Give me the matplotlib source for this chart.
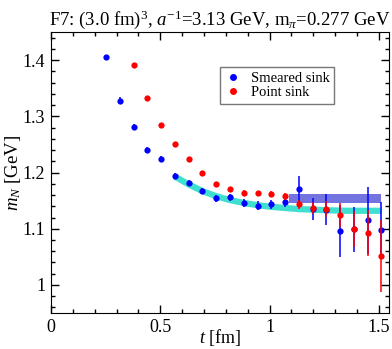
import matplotlib
matplotlib.use("Agg")
import matplotlib.pyplot as plt
from matplotlib.ticker import MultipleLocator
from matplotlib.lines import Line2D

plt.rcParams['font.family'] = ['Liberation Serif', 'DejaVu Serif']
plt.rcParams['mathtext.fontset'] = 'custom'
plt.rcParams['mathtext.rm'] = 'Liberation Serif'
plt.rcParams['mathtext.it'] = 'Liberation Serif:italic'

# smeared sink
t_sm = [0.252, 0.315, 0.378, 0.441, 0.504, 0.567, 0.630, 0.693, 0.756, 0.819, 0.882,
        0.945, 1.008, 1.071, 1.134, 1.197, 1.260, 1.323, 1.386, 1.449, 1.512]
m_sm = [1.405, 1.328, 1.281, 1.240, 1.225, 1.194, 1.181, 1.167, 1.154, 1.156, 1.146,
        1.141, 1.144, 1.147, 1.170, 1.135, 1.134, 1.096, 1.099, 1.115, 1.097]
e_sm = [0.005, 0.006, 0.005, 0.005, 0.005, 0.006, 0.005, 0.006, 0.006, 0.006, 0.007,
        0.008, 0.008, 0.009, 0.024, 0.019, 0.027, 0.047, 0.040, 0.060, 0.050]

# point sink
t_pt = [0.378, 0.441, 0.504, 0.567, 0.630, 0.693, 0.756, 0.819, 0.882, 0.945,
        1.008, 1.071, 1.134, 1.197, 1.260, 1.323, 1.386, 1.449, 1.512]
m_pt = [1.391, 1.332, 1.285, 1.250, 1.224, 1.199, 1.179, 1.171, 1.164, 1.163,
        1.162, 1.158, 1.144, 1.137, 1.135, 1.124, 1.099, 1.092, 1.052]
e_pt = [0.002, 0.002, 0.002, 0.003, 0.003, 0.003, 0.004, 0.004, 0.005, 0.005,
        0.006, 0.006, 0.008, 0.011, 0.014, 0.021, 0.032, 0.041, 0.064]

# fit curve
t_fit = [0.567, 0.630, 0.693, 0.756, 0.819, 0.882, 0.945, 1.008, 1.071, 1.134,
         1.197, 1.260, 1.350, 1.430, 1.512]
m_fit = [1.193, 1.179, 1.167, 1.158, 1.151, 1.146, 1.142, 1.139, 1.137, 1.135,
         1.134, 1.133, 1.132, 1.132, 1.132]

# plateau band
band_t = [1.088, 1.512]
band_lo = 1.145
band_hi = 1.161

fig = plt.figure(figsize=(3.92, 3.49), dpi=100)
ax = fig.add_axes([0.130, 0.103, 0.862, 0.805])

ax.fill_between(band_t, band_lo, band_hi, color='#7474e0', lw=0, zorder=1)
ax.plot(t_fit, m_fit, color='#40e0d0', lw=4.5, solid_capstyle='butt', zorder=2)

ax.errorbar(t_sm, m_sm, yerr=e_sm, fmt='o', color='blue', ms=4.5, mew=0,
            elinewidth=1.1, capsize=3.5, capthick=1.1, zorder=3)
ax.errorbar(t_pt, m_pt, yerr=e_pt, fmt='o', color='red', ms=4.5, mew=0,
            elinewidth=1.1, capsize=3.5, capthick=1.1, zorder=4)

ax.set_xlim(0, 1.546)
ax.set_ylim(0.95, 1.45)
ax.xaxis.set_minor_locator(MultipleLocator(0.1))
ax.yaxis.set_minor_locator(MultipleLocator(0.02))
ax.set_xticks([0, 0.5, 1, 1.5])
ax.set_xticklabels(['0', '0.5', '1', '1.5'])
ax.set_yticks([1.0, 1.1, 1.2, 1.3, 1.4])
ax.set_yticklabels(['1', '1.1', '1.2', '1.3', '1.4'])
ax.tick_params(which='both', direction='in', top=True, right=True, labelsize=13)
ax.tick_params(which='major', length=6, width=1, pad=4)
ax.tick_params(which='minor', length=3, width=1)

ax.set_xlabel(r'$t$ [fm]', fontsize=13)
ax.xaxis.set_label_coords(0.5, -0.05)
ax.set_ylabel(r'$m_N$ [GeV]', fontsize=13.5)
ax.yaxis.set_label_coords(-0.082, 0.5)
ax.set_title(r'F7: (3.0 fm)$^3$, $a^{-1}$=3.13 GeV, m$_\pi$=0.277 GeV',
             fontsize=13.5, pad=5)

handles = [Line2D([], [], ls='none', marker='o', ms=5, mew=0, color='blue'),
           Line2D([], [], ls='none', marker='o', ms=5, mew=0, color='red')]
leg = ax.legend(handles, ['Smeared sink', 'Point sink'], loc='upper left',
                bbox_to_anchor=(0.50, 0.875), fontsize=10.5, frameon=True,
                fancybox=False, edgecolor='#555555', handlelength=1.2,
                handletextpad=0.6, borderpad=0.3, labelspacing=0.1, borderaxespad=0)
leg.get_frame().set_linewidth(1.0)

fig.savefig('out.png', dpi=100)
